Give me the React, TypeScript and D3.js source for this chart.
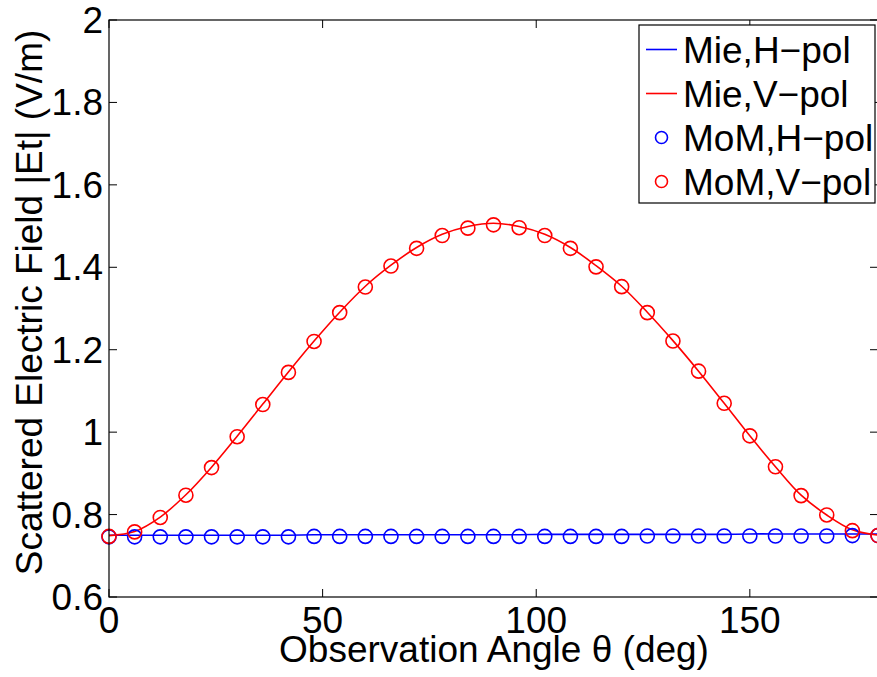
import * as d3 from 'd3'

// observation angles (deg)
const angles = [
  0, 6, 12, 18, 24, 30, 36, 42, 48, 54, 60, 66, 72, 78, 84, 90,
  96, 102, 108, 114, 120, 126, 132, 138, 144, 150, 156, 162, 168, 174, 180,
]

const mieH = [
  0.750, 0.750, 0.750, 0.750, 0.750, 0.750, 0.750, 0.750, 0.751, 0.751, 0.751, 0.751, 0.751, 0.751, 0.751, 0.751,
  0.751, 0.752, 0.752, 0.752, 0.752, 0.752, 0.752, 0.752, 0.752, 0.753, 0.753, 0.753, 0.753, 0.753, 0.753,
]
const mieV = [
  0.749, 0.759, 0.794, 0.848, 0.915, 0.990, 1.068, 1.146, 1.221, 1.291, 1.354, 1.405, 1.448, 1.480, 1.499, 1.507,
  1.499, 1.480, 1.448, 1.404, 1.354, 1.291, 1.222, 1.148, 1.070, 0.991, 0.916, 0.847, 0.799, 0.763, 0.750,
]
const momH = [
  0.746, 0.746, 0.746, 0.746, 0.746, 0.746, 0.746, 0.746, 0.747, 0.747, 0.747, 0.747, 0.747, 0.747, 0.747, 0.747,
  0.747, 0.747, 0.747, 0.747, 0.747, 0.748, 0.748, 0.748, 0.748, 0.748, 0.748, 0.748, 0.748, 0.749, 0.749,
]
const momV = [
  0.747, 0.758, 0.793, 0.847, 0.914, 0.989, 1.067, 1.145, 1.220, 1.290, 1.352, 1.403, 1.446, 1.477, 1.495, 1.503,
  1.496, 1.477, 1.446, 1.401, 1.353, 1.290, 1.221, 1.148, 1.070, 0.991, 0.916, 0.846, 0.799, 0.761, 0.749,
]

const xTicks = [0, 50, 100, 150]
const yTicks = [0.6, 0.8, 1, 1.2, 1.4, 1.6, 1.8, 2]

const W = 877
const H = 677
const FONT = "'Liberation Sans', Arial, Helvetica, sans-serif"
const FS = 37
const M = { left: 109, right: 878, top: 20, bottom: 597 }

export default function App() {
  const x = d3.scaleLinear().domain([0, 180]).range([M.left, M.right])
  const y = d3.scaleLinear().domain([0.6, 2]).range([M.bottom, M.top])

  const line = d3
    .line<number>()
    .x((_, i) => x(angles[i]))
    .y((d) => y(d))
    .curve(d3.curveCatmullRom)

  const legend = [
    { label: 'Mie,H\u2212pol', color: '#0000ff', kind: 'line' },
    { label: 'Mie,V\u2212pol', color: '#ff0000', kind: 'line' },
    { label: 'MoM,H\u2212pol', color: '#0000ff', kind: 'circle' },
    { label: 'MoM,V\u2212pol', color: '#ff0000', kind: 'circle' },
  ]

  return (
    <svg
      width={W}
      height={H}
      style={{ position: 'fixed', left: 0, top: 0, background: '#fff' }}
      fontFamily={FONT}
    >
      <rect x={0} y={0} width={W} height={H} fill="#fff" />

      {/* data */}
      <path d={line(mieH) ?? ''} fill="none" stroke="#0000ff" strokeWidth={1.6} />
      <path d={line(mieV) ?? ''} fill="none" stroke="#ff0000" strokeWidth={1.6} />
      {momH.map((v, i) => (
        <circle key={'h' + i} cx={x(angles[i])} cy={y(v)} r={7} fill="none" stroke="#0000ff" strokeWidth={1.6} />
      ))}
      {momV.map((v, i) => (
        <circle key={'v' + i} cx={x(angles[i])} cy={y(v)} r={7} fill="none" stroke="#ff0000" strokeWidth={1.6} />
      ))}

      {/* axes box */}
      <rect
        x={M.left}
        y={M.top}
        width={M.right - M.left}
        height={M.bottom - M.top}
        fill="none"
        stroke="#000"
        strokeWidth={1.2}
      />

      {xTicks.map((t) => (
        <g key={'x' + t}>
          <line x1={x(t)} x2={x(t)} y1={M.bottom} y2={M.bottom - 8} stroke="#000" strokeWidth={1} />
          <line x1={x(t)} x2={x(t)} y1={M.top} y2={M.top + 8} stroke="#000" strokeWidth={1} />
          <text x={x(t)} y={633} textAnchor="middle" fontSize={FS} fill="#000">
            {t}
          </text>
        </g>
      ))}
      {yTicks.map((t) => (
        <g key={'y' + t}>
          <line x1={M.left} x2={M.left + 8} y1={y(t)} y2={y(t)} stroke="#000" strokeWidth={1} />
          <line x1={M.right - 8} x2={M.right} y1={y(t)} y2={y(t)} stroke="#000" strokeWidth={1} />
          <text x={103} y={y(t) + 13} textAnchor="end" fontSize={FS} fill="#000">
            {t}
          </text>
        </g>
      ))}

      <text x={494} y={662} textAnchor="middle" fontSize={FS} fill="#000">
        Observation Angle θ (deg)
      </text>
      <text
        transform={`translate(42,${(M.top + M.bottom) / 2 - 6}) rotate(-90)`}
        textAnchor="middle"
        fontSize={FS}
        fill="#000"
      >
        Scattered Electric Field |Et| (V/m)
      </text>

      {/* legend */}
      <g>
        <rect x={639} y={25} width={236} height={178} fill="#fff" stroke="#000" strokeWidth={1.2} />
        {legend.map((d, i) => {
          const cy = 49.5 + i * 44
          return (
            <g key={d.label}>
              {d.kind === 'line' ? (
                <line x1={646} x2={677} y1={cy} y2={cy} stroke={d.color} strokeWidth={1.6} />
              ) : (
                <circle cx={661.5} cy={cy} r={6} fill="none" stroke={d.color} strokeWidth={1.6} />
              )}
              <text x={683} y={cy + 13} fontSize={FS} fill="#000">
                {d.label}
              </text>
            </g>
          )
        })}
      </g>
    </svg>
  )
}
